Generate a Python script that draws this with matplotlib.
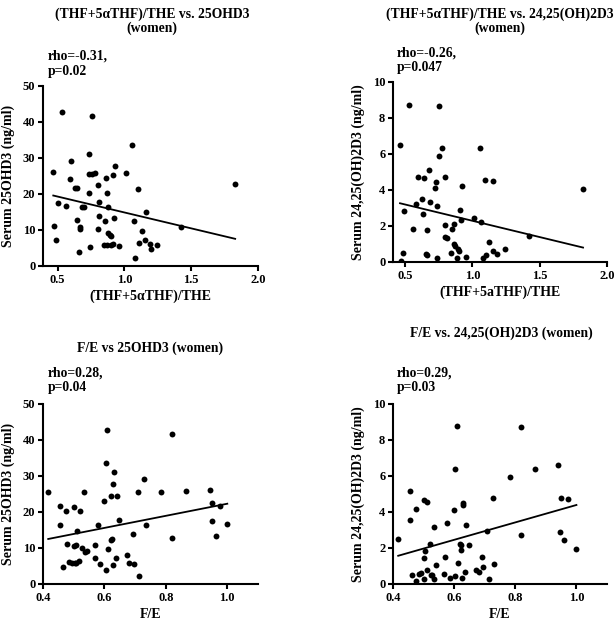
import matplotlib
matplotlib.use("Agg")
import matplotlib.pyplot as plt
import numpy as np

plt.rcParams['font.family'] = ['Liberation Serif', 'DejaVu Serif']
plt.rcParams['font.weight'] = 'bold'

# --- panel A: (THF+5aTHF)/THE vs 25OHD3
thf_a = [0.534, 0.757, 1.06, 0.733, 0.596, 0.929, 0.467, 0.737, 0.757, 0.782,
         0.589, 0.859, 0.911, 1.015, 0.804, 1.10, 0.631, 0.643, 0.733, 0.871,
         0.502, 0.564, 0.683, 0.695, 0.809, 0.879, 1.162, 0.641, 0.812, 0.857,
         0.919, 1.072, 0.472, 0.668, 0.670, 0.802, 0.874, 0.889, 0.899, 1.132,
         1.42, 0.484, 1.152, 0.844, 0.866, 0.899, 0.911, 0.956, 0.740, 1.11,
         1.19, 1.196, 1.244, 0.663, 1.08, 1.829]
ohd3_a = [42.8, 41.7, 33.6, 31.1, 29.1, 27.8, 26.2, 25.5, 25.5, 25.9,
          24.3, 24.4, 25.4, 25.7, 22.5, 21.4, 21.7, 21.7, 20.3, 20.3,
          17.5, 16.6, 16.4, 16.4, 17.8, 16.3, 14.9, 12.8, 13.8, 12.5,
          13.2, 12.4, 11.0, 10.8, 10.3, 10.3, 9.3, 8.6, 8.2, 9.7,
          10.9, 7.1, 7.3, 5.8, 5.8, 5.8, 6.1, 5.6, 5.4, 6.5,
          6.1, 4.7, 5.8, 4.0, 2.2, 22.9]

# --- panel B: (THF+5aTHF)/THE vs 24,25(OH)2D3
thf_b = [0.532, 0.752, 0.462, 0.777, 1.055, 0.752, 0.68, 0.594, 0.638, 0.80,
         0.73, 0.725, 1.092, 1.154, 0.924, 1.822, 0.626, 0.584, 0.688, 0.735,
         0.494, 0.636, 0.906, 0.916, 1.01, 1.067, 0.80, 0.862, 0.852, 0.559,
         0.666, 0.80, 0.81, 1.417, 1.125, 0.862, 0.871, 0.891, 0.904, 0.842,
         0.658, 0.660, 0.482, 0.95, 0.737, 0.889, 1.075, 1.102, 1.15, 1.186,
         1.24, 0.467]
d2425_b = [8.72, 8.69, 6.52, 6.31, 6.31, 5.87, 5.09, 4.72, 4.67, 4.72,
           4.44, 4.11, 4.57, 4.50, 4.24, 4.06, 3.50, 3.24, 3.31, 3.11,
           2.83, 2.67, 2.87, 2.35, 2.44, 2.20, 2.06, 2.13, 1.83, 1.85,
           1.78, 1.41, 1.33, 1.43, 1.13, 1.00, 0.91, 0.72, 0.61, 0.52,
           0.43, 0.39, 0.48, 0.28, 0.24, 0.20, 0.20, 0.39, 0.63, 0.44,
           0.74, 0.06]

# --- panel C: F/E vs 25OHD3
fe_c = [0.417, 0.608, 0.821, 0.604, 0.63, 0.728, 0.629, 0.943, 0.866, 0.784,
        0.708, 0.535, 0.62, 0.641, 0.60, 0.456, 0.50, 0.474, 0.522, 0.951,
        0.975, 0.649, 0.456, 0.578, 0.734, 0.949, 1.0, 0.51, 0.693, 0.963,
        0.821, 0.624, 0.62, 0.477, 0.57, 0.50, 0.507, 0.527, 0.536, 0.544,
        0.612, 0.673, 0.568, 0.638, 0.485, 0.495, 0.503, 0.509, 0.518, 0.584,
        0.627, 0.681, 0.697, 0.464, 0.606, 0.714]
ohd3_c = [25.6, 42.9, 41.7, 33.6, 31.1, 29.2, 27.9, 26.1, 25.9, 25.5,
          25.5, 25.6, 24.4, 24.4, 23.0, 21.7, 21.5, 20.4, 20.4, 22.5,
          21.7, 17.8, 16.5, 16.3, 16.4, 17.5, 16.7, 14.8, 13.8, 13.2,
          12.8, 12.6, 12.1, 11.1, 10.9, 10.6, 10.7, 10.1, 8.8, 9.3,
          9.7, 8.1, 7.1, 7.2, 6.1, 5.9, 5.8, 5.8, 6.5, 5.6,
          5.4, 5.8, 5.6, 4.6, 4.0, 2.1]

# --- panel D: F/E vs 24,25(OH)2D3
fe_d = [0.417, 0.608, 0.818, 0.603, 0.864, 0.94, 0.783, 0.454, 0.50, 0.51,
        0.727, 0.948, 0.973, 0.629, 0.628, 0.474, 0.60, 0.455, 0.577, 0.64,
        0.535, 0.707, 0.946, 0.82, 0.96, 0.522, 0.62, 0.622, 0.623, 0.648,
        0.505, 1.0, 0.571, 0.692, 0.50, 0.611, 0.542, 0.732, 0.696, 0.67,
        0.68, 0.511, 0.463, 0.485, 0.493, 0.524, 0.528, 0.568, 0.604, 0.637,
        0.587, 0.627, 0.50, 0.534, 0.714, 0.475]
d2425_d = [2.51, 8.78, 8.75, 6.37, 6.38, 6.59, 5.92, 5.15, 4.65, 4.58,
           4.78, 4.78, 4.72, 4.48, 4.39, 4.17, 4.13, 3.56, 3.38, 3.30,
           3.17, 2.93, 2.90, 2.73, 2.42, 2.20, 2.23, 2.14, 1.90, 2.14,
           1.86, 1.94, 1.51, 1.51, 1.44, 1.18, 1.07, 1.09, 0.94, 0.79,
           0.66, 0.79, 0.52, 0.55, 0.59, 0.52, 0.48, 0.55, 0.46, 0.68,
           0.35, 0.31, 0.26, 0.26, 0.28, 0.15]

# regression lines (slope, intercept)
fit_a = (-8.83, 23.7)
fit_b = (-1.81, 4.10)
fit_c = (16.8, 5.5)
fit_d = (4.84, -0.45)

W, H = 615, 621
fig = plt.figure(figsize=(W / 100, H / 100), dpi=100)


def px(x, y):
    return x / W, 1 - y / H


def panel(rect, xs, ys, fit, xlim, xticks, ylim, yticks, xlabel, ylabel):
    ax = fig.add_axes(rect)
    ax.scatter(xs, ys, s=18, color='black', zorder=3, linewidths=0)
    lx = np.array([min(xs), max(xs)])
    ax.plot(lx, fit[0] * lx + fit[1], color='black', lw=1.3)
    ax.set_xlim(*xlim)
    ax.set_ylim(*ylim)
    ax.set_xticks(xticks)
    ax.set_yticks(yticks)
    ax.spines['top'].set_visible(False)
    ax.spines['right'].set_visible(False)
    for s in ('left', 'bottom'):
        ax.spines[s].set_linewidth(1.5)
    ax.tick_params(direction='out', length=3.5, width=1.5, labelsize=9, pad=2)
    ax.set_xlabel(xlabel, fontsize=10, fontweight='bold', labelpad=3)
    ax.set_ylabel(ylabel, fontsize=10, fontweight='bold', labelpad=6)
    return ax


panel([43 / W, 1 - 266 / H, 215 / W, 180 / H], thf_a, ohd3_a, fit_a,
      (0.39, 2.0), [0.5, 1.0, 1.5, 2.0], (0, 50), [0, 10, 20, 30, 40, 50],
      '(THF+5\u03b1THF)/THE', 'Serum 25OHD3 (ng/ml)')
panel([393 / W, 1 - 262 / H, 214 / W, 180 / H], thf_b, d2425_b, fit_b,
      (0.41, 2.0), [0.5, 1.0, 1.5, 2.0], (0, 10), [0, 2, 4, 6, 8, 10],
      '(THF+5aTHF)/THE', 'Serum 24,25(OH)2D3 (ng/ml)')
panel([43 / W, 1 - 584 / H, 215 / W, 180 / H], fe_c, ohd3_c, fit_c,
      (0.4, 1.1), [0.4, 0.6, 0.8, 1.0], (0, 50), [0, 10, 20, 30, 40, 50],
      'F/E', 'Serum 25OHD3 (ng/ml)')
panel([393 / W, 1 - 584 / H, 214 / W, 180 / H], fe_d, d2425_d, fit_d,
      (0.4, 1.1), [0.4, 0.6, 0.8, 1.0], (0, 10), [0, 2, 4, 6, 8, 10],
      'F/E', 'Serum 24,25(OH)2D3 (ng/ml)')

tkw = dict(fontsize=9.8, fontweight='bold', va='center')
# titles
fig.text(*px(152, 14), '(THF+5\u03b1THF)/THE vs. 25OHD3', ha='center', **tkw)
fig.text(*px(152, 28), '(women)', ha='center', **tkw)
fig.text(*px(500, 14), '(THF+5\u03b1THF)/THE vs. 24,25(OH)2D3', ha='center', **tkw)
fig.text(*px(500, 28), '(women)', ha='center', **tkw)
fig.text(*px(150, 348), 'F/E vs 25OHD3 (women)', ha='center', **tkw)
fig.text(*px(501, 333), 'F/E vs. 24,25(OH)2D3 (women)', ha='center', **tkw)

# correlation notes
fig.text(*px(48, 56), 'rho=-0.31,', ha='left', **tkw)
fig.text(*px(48, 71), 'p=0.02', ha='left', **tkw)
fig.text(*px(397, 53), 'rho=-0.26,', ha='left', **tkw)
fig.text(*px(397, 67), 'p=0.047', ha='left', **tkw)
fig.text(*px(48, 373), 'rho=0.28,', ha='left', **tkw)
fig.text(*px(48, 387), 'p=0.04', ha='left', **tkw)
fig.text(*px(397, 373), 'rho=0.29,', ha='left', **tkw)
fig.text(*px(397, 387), 'p=0.03', ha='left', **tkw)

fig.savefig('out.png', dpi=100)
